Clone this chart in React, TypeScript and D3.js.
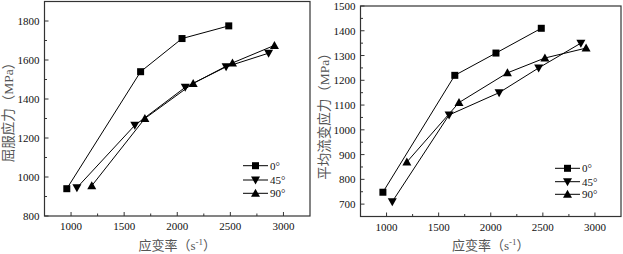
import React from "react";
import * as d3 from "d3";

const seriesNames = ["0°", "45°", "90°"];
const markerTypes = ["square", "down", "up"];

// Left panel: yield stress
const leftX0 = [960, 1655, 2045, 2485];
const leftY0 = [940, 1540, 1710, 1775];
const leftX45 = [1055, 1600, 2075, 2460, 2860];
const leftY45 = [945, 1265, 1460, 1565, 1635];
const leftX90 = [1195, 1695, 2150, 2520, 2915];
const leftY90 = [955, 1300, 1480, 1585, 1675];

// Right panel: mean flow stress
const rightX0 = [965, 1655, 2050, 2485];
const rightY0 = [748, 1220, 1310, 1410];
const rightX45 = [1055, 1600, 2080, 2460, 2865];
const rightY45 = [710, 1060, 1150, 1250, 1350];
const rightX90 = [1195, 1695, 2160, 2520, 2915];
const rightY90 = [870, 1110, 1230, 1290, 1330];

const xTicks = [1000, 1500, 2000, 2500, 3000];
const xMinor = [1250, 1750, 2250, 2750];
const leftYTicks = [800, 1000, 1200, 1400, 1600, 1800];
const leftYMinor = [900, 1100, 1300, 1500, 1700];
const rightYTicks = [700, 800, 900, 1000, 1100, 1200, 1300, 1400, 1500];
const rightYMinor = [750, 850, 950, 1050, 1150, 1250, 1350, 1450];

const xLabel = "应变率（s";
const leftYLabel = "屈服应力（MPa）";
const rightYLabel = "平均流变应力（MPa）";

const FONT = "'Liberation Serif', 'Noto Sans CJK SC', serif";

function Marker({ type, x, y }: { type: string; x: number; y: number }) {
  if (type === "square") return <rect x={x - 3.5} y={y - 3.5} width={7} height={7} fill="#000" />;
  if (type === "down") return <path d={`M${x - 4.5},${y - 3.5}L${x + 4.5},${y - 3.5}L${x},${y + 4.5}Z`} fill="#000" />;
  return <path d={`M${x - 4.5},${y + 3.5}L${x + 4.5},${y + 3.5}L${x},${y - 4.5}Z`} fill="#000" />;
}

type PanelProps = {
  left: number; right: number; top: number; bottom: number;
  yDomain: [number, number]; yTicks: number[]; yMinor: number[];
  xs: number[][]; ys: number[][]; yLabel: string; yLabelX: number; yLabelY: number;
  legendX: number; legendY: number[];
};

function Panel(p: PanelProps) {
  const x = d3.scaleLinear().domain([750, 3250]).range([p.left, p.right]);
  const y = d3.scaleLinear().domain(p.yDomain).range([p.bottom, p.top]);
  const line = d3.line<[number, number]>().x((d) => x(d[0])).y((d) => y(d[1]));
  const cx = (p.left + p.right) / 2;
  return (
    <g>
      {p.xs.map((xs, i) => (
        <g key={i}>
          <path d={line(xs.map((v, j) => [v, p.ys[i][j]]) as [number, number][]) || ""} fill="none" stroke="#000" strokeWidth={1} />
          {xs.map((v, j) => (
            <Marker key={j} type={markerTypes[i]} x={x(v)} y={y(p.ys[i][j])} />
          ))}
        </g>
      ))}
      <rect x={p.left} y={p.top} width={p.right - p.left} height={p.bottom - p.top} fill="none" stroke="#333" strokeWidth={1.2} />
      {xTicks.map((t) => (
        <g key={t}>
          <line x1={x(t)} x2={x(t)} y1={p.bottom} y2={p.bottom - 4} stroke="#333" />
          <text x={x(t)} y={p.bottom + 14} textAnchor="middle" fontSize={11} fontFamily={FONT} fill="#111">{t}</text>
        </g>
      ))}
      {xMinor.map((t) => (
        <line key={t} x1={x(t)} x2={x(t)} y1={p.bottom} y2={p.bottom - 2.5} stroke="#333" />
      ))}
      {p.yTicks.map((t) => (
        <g key={t}>
          <line x1={p.left} x2={p.left + 4} y1={y(t)} y2={y(t)} stroke="#333" />
          <text x={p.left - 5} y={y(t) + 4} textAnchor="end" fontSize={11} fontFamily={FONT} fill="#111">{t}</text>
        </g>
      ))}
      {p.yMinor.map((t) => (
        <line key={t} x1={p.left} x2={p.left + 2.5} y1={y(t)} y2={y(t)} stroke="#333" />
      ))}
      <text x={cx} y={250} textAnchor="middle" fontSize={13} fontFamily={FONT} fill="#555">
        {xLabel}
        <tspan dy={-5} fontSize={9}>-1</tspan>
        <tspan dy={5}>）</tspan>
      </text>
      <text transform={`translate(${p.yLabelX},${p.yLabelY}) rotate(-90)`} textAnchor="middle" fontSize={13.5} fontFamily={FONT} fill="#555">
        {p.yLabel}
      </text>
      {seriesNames.map((n, i) => (
        <g key={n}>
          <line x1={p.legendX} x2={p.legendX + 25} y1={p.legendY[i]} y2={p.legendY[i]} stroke="#000" />
          <Marker type={markerTypes[i]} x={p.legendX + 12.5} y={p.legendY[i]} />
          <text x={p.legendX + 27} y={p.legendY[i] + 4} fontSize={11} fontFamily={FONT} fill="#111">{n}</text>
        </g>
      ))}
    </g>
  );
}

export default function App() {
  return (
    <svg width={623} height={254} style={{ position: "absolute", left: 0, top: 0, background: "#fff" }}>
      <rect width={623} height={254} fill="#fff" />
      <Panel left={44.5} right={310} top={1.5} bottom={216} yDomain={[800, 1900]}
        yTicks={leftYTicks} yMinor={leftYMinor}
        xs={[leftX0, leftX45, leftX90]} ys={[leftY0, leftY45, leftY90]}
        yLabel={leftYLabel} yLabelX={12.5} yLabelY={109}
        legendX={243} legendY={[165.7, 180, 193.3]} />
      <Panel left={360.5} right={621} top={6} bottom={216.5} yDomain={[650, 1500]}
        yTicks={rightYTicks} yMinor={rightYMinor}
        xs={[rightX0, rightX45, rightX90]} ys={[rightY0, rightY45, rightY90]}
        yLabel={rightYLabel} yLabelX={329} yLabelY={113}
        legendX={555} legendY={[168.3, 181.7, 194.3]} />
    </svg>
  );
}
